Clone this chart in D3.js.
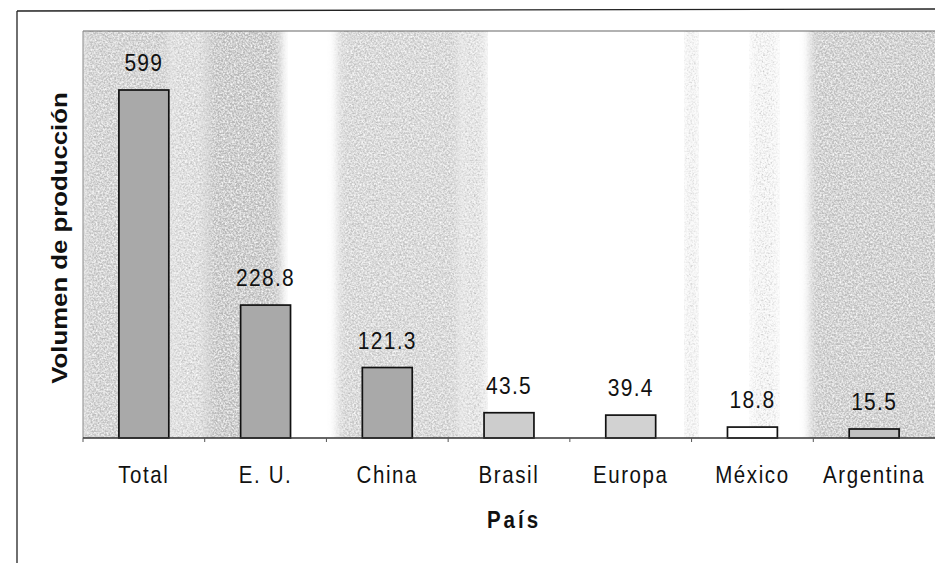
<!DOCTYPE html>
<html><head><meta charset="utf-8">
<script src="https://cdn.jsdelivr.net/npm/d3@7"></script>
<style>
html,body{margin:0;padding:0;background:#fff;}
svg{display:block;font-family:"Liberation Sans",Arial,sans-serif;}
</style></head>
<body>
<svg id="chart" width="935" height="563"></svg>
<script>
const categories = ["Total", "E. U.", "China", "Brasil", "Europa", "México", "Argentina"];
const values = [599, 228.8, 121.3, 43.5, 39.4, 18.8, 15.5];
const valueLabels = ["599", "228.8", "121.3", "43.5", "39.4", "18.8", "15.5"];
const barFills = ["#a9a9a9", "#a9a9a9", "#a9a9a9", "#cdcdcd", "#d2d2d2", "#ffffff", "#c0c0c0"];
const xTitle = "País";
const yTitle = "Volumen de producción";

const svg = d3.select("#chart");
const W = 935, H = 563;
const m = {left: 83, right: 0, top: 31, bottom: 125};
const iw = W - m.left - m.right, ih = H - m.top - m.bottom;
const SY = 1.15; // vertical stretch of the scanned text

const x = d3.scaleBand().domain(categories).range([m.left, W - m.right]).paddingInner(0.59).paddingOuter(0.295);
const y = d3.scaleLinear().domain([0, 599]).range([m.top + ih, m.top + 59]);

const defs = svg.append("defs");
const f = defs.append("filter").attr("id","grain").attr("x","-10%").attr("y","0").attr("width","120%").attr("height","100%");
f.append("feGaussianBlur").attr("in","SourceGraphic").attr("stdDeviation","5").attr("result","b");
f.append("feTurbulence").attr("type","fractalNoise").attr("baseFrequency","0.55").attr("numOctaves","2").attr("seed","7").attr("result","n");
f.append("feColorMatrix").attr("in","n").attr("type","matrix")
  .attr("values","0 0 0 0 1  0 0 0 0 1  0 0 0 0 1  1.8 0 0 0 -0.6").attr("result","w");
f.append("feComposite").attr("in","w").attr("in2","b").attr("operator","in").attr("result","wm");
f.append("feColorMatrix").attr("in","n").attr("type","matrix")
  .attr("values","0 0 0 0 0.45  0 0 0 0 0.45  0 0 0 0 0.45  0 1.6 0 0 -0.62").attr("result","d");
f.append("feComposite").attr("in","d").attr("in2","b").attr("operator","in").attr("result","dm");
const mg = f.append("feMerge");
mg.append("feMergeNode").attr("in","b");
mg.append("feMergeNode").attr("in","dm");
mg.append("feMergeNode").attr("in","wm");

// scanned background stripes, expressed in band-step units from the left edge
const step = x.step();
const stripes = [
  {a: 0.0, b: 0.72, c: "#c6c6c6"},
  {a: 0.72, b: 1.02, c: "#d8d8d8"},
  {a: 1.02, b: 1.62, c: "#b9b9b9"},
  {a: 2.1, b: 3.1, c: "#cfcfcf"},
  {a: 3.1, b: 3.3, c: "#e0e0e0"},
  {a: 4.95, b: 5.05, c: "#f6f6f6"},
  {a: 5.5, b: 5.7, c: "#f8f8f8"},
  {a: 5.98, b: 7.2, c: "#c2c2c2"}
];
const plotClip = defs.append("clipPath").attr("id","pc");
plotClip.append("rect").attr("x", m.left).attr("y", m.top).attr("width", iw).attr("height", ih);
const bg = svg.append("g").attr("clip-path","url(#pc)");
bg.selectAll("rect").data(stripes).join("rect")
  .attr("x", d => m.left + d.a * step)
  .attr("y", m.top - 10)
  .attr("width", d => (d.b - d.a) * step)
  .attr("height", ih + 20)
  .attr("fill", d => d.c)
  .attr("filter","url(#grain)");

// outer frame
svg.append("line").attr("x1",17).attr("x2",17).attr("y1",11).attr("y2",H).attr("stroke","#222").attr("stroke-width",1.3);
svg.append("line").attr("x1",17).attr("x2",W).attr("y1",11).attr("y2",9).attr("stroke","#222").attr("stroke-width",1.3);

// plot border
svg.append("line").attr("x1",m.left).attr("x2",W).attr("y1",m.top).attr("y2",m.top).attr("stroke","#666").attr("stroke-width",1.2);
svg.append("line").attr("x1",m.left).attr("x2",m.left).attr("y1",m.top).attr("y2",m.top+ih).attr("stroke","#888").attr("stroke-width",1);

// bars
svg.append("g").selectAll("rect").data(values).join("rect")
  .attr("x", (d,i) => x(categories[i]))
  .attr("y", d => y(d))
  .attr("width", x.bandwidth())
  .attr("height", d => y(0) - y(d))
  .attr("fill", (d,i) => barFills[i])
  .attr("stroke", "#111").attr("stroke-width", 1.7);

// value labels
svg.append("g").selectAll("text").data(values).join("text")
  .attr("transform", (d,i) => `translate(${x(categories[i]) + x.bandwidth()/2},${y(d) - 19}) scale(1,${SY})`)
  .attr("text-anchor","middle")
  .attr("font-size", 21).attr("letter-spacing","1.3px").attr("fill","#111")
  .text((d,i) => valueLabels[i]);

// x axis
const xAxis = d3.axisBottom(x).tickSize(0).tickPadding(0);
const gx = svg.append("g").attr("transform", `translate(0,${y(0)})`).call(xAxis);
gx.select(".domain").attr("stroke","#333").attr("stroke-width",1.4).attr("d", `M${m.left},0H${W}`);
gx.selectAll(".tick text")
  .attr("y", 45 / SY).attr("dy", null)
  .attr("transform", `scale(1,${SY})`)
  .attr("font-size", 20.5).attr("fill","#111").attr("font-family","Liberation Sans, Arial, sans-serif").attr("letter-spacing","1.6px");
// category boundary ticks
svg.append("g").selectAll("line").data(categories).join("line")
  .attr("x1", d => x(d) - x.step()*x.paddingInner()/2)
  .attr("x2", d => x(d) - x.step()*x.paddingInner()/2)
  .attr("y1", y(0)).attr("y2", y(0) + 4)
  .attr("stroke","#555").attr("stroke-width",1);

// axis titles
svg.append("text").attr("transform", `translate(514,528) scale(1,${SY})`).attr("text-anchor","middle")
  .attr("font-size", 20.5).attr("font-weight","bold").attr("letter-spacing","3px").attr("fill","#111").text(xTitle);
svg.append("text").attr("transform", `translate(67,238) rotate(-90) scale(1.12,1)`).attr("text-anchor","middle")
  .attr("font-size", 23).attr("font-weight","bold").attr("letter-spacing","0px").attr("fill","#111").text(yTitle);
</script>
</body></html>
